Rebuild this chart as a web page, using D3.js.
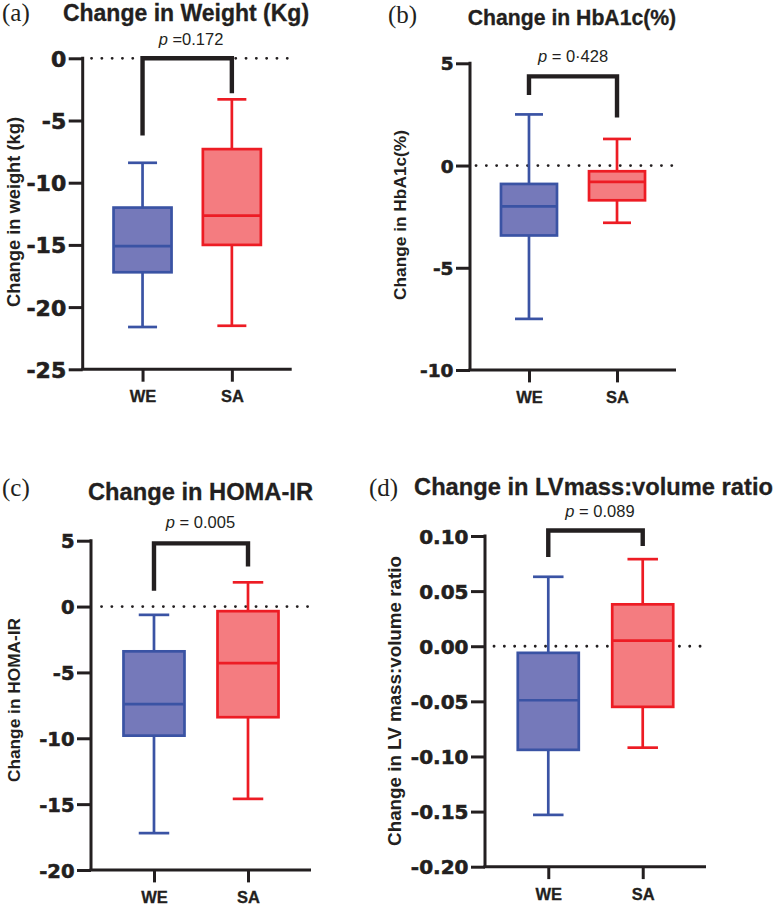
<!DOCTYPE html>
<html>
<head>
<meta charset="utf-8">
<script src="https://cdn.jsdelivr.net/npm/d3@7"></script>
<style>
  html, body { margin: 0; padding: 0; background: #fff; }
  svg { display: block; }
</style>
</head>
<body>
<svg id="chart" width="778" height="908"></svg>
<script>
// ---------- DATA ----------
const groups = ["WE", "SA"];
// five-number summaries: [min, q1, median, q3, max]
const weightWE = [-21.6, -17.2, -15.1, -12.0, -8.4];
const weightSA = [-21.5, -15.0, -12.65, -7.3, -3.3];
const hba1cWE = [-7.5, -3.42, -2.0, -0.9, 2.5];
const hba1cSA = [-2.8, -1.7, -0.8, -0.28, 1.3];
const homaWE = [-17.2, -9.8, -7.4, -3.4, -0.63];
const homaSA = [-14.6, -8.4, -4.3, -0.35, 1.84];
const lvWE = [-0.153, -0.094, -0.049, -0.006, 0.063];
const lvSA = [-0.092, -0.055, 0.005, 0.038, 0.079];
// bracket: [top, left end, right end]
const bracketWeight = [0, -6.2, -2.8];
const bracketHba1c = [4.36, 3.45, 2.35];
const bracketHoma = [4.8, 1.2, 3.05];
const bracketLv = [0.105, 0.081, 0.091];
const ticksWeight = [0, -5, -10, -15, -20, -25];
const ticksHba1c = [5, 0, -5, -10];
const ticksHoma = [5, 0, -5, -10, -15, -20];
const ticksLv = [0.10, 0.05, 0.00, -0.05, -0.10, -0.15, -0.20];
const titles = ["Change in Weight (Kg)", "Change in HbA1c(%)", "Change in HOMA-IR", "Change in LVmass:volume ratio"];
const yLabels = ["Change in weight (kg)", "Change in HbA1c(%)", "Change in HOMA-IR", "Change in LV mass:volume ratio"];
const pLabels = [["p", " =0.172"], ["p", " = 0·428"], ["p", " = 0.005"], ["p", " = 0.089"]];
const panelLetters = ["(a)", "(b)", "(c)", "(d)"];

// ---------- LAYOUT ----------
const panels = [
  { stats: [weightWE, weightSA], bracket: bracketWeight, ticks: ticksWeight, domain: [-25, 0], fmt: d3.format("d"),
    x0: 82.7, x1: 291.7, yTop: 58.3, yBot: 369.3, boxW: 58, dot: [91.5, 291],
    tickFs: 22, titleFs: 23, ylabFs: 18.3,
    letter: [2, 20.5], title: [186, 21], p: [191, 45], ylab: [19.5, 212] },
  { stats: [hba1cWE, hba1cSA], bracket: bracketHba1c, ticks: ticksHba1c, domain: [-10, 5], fmt: d3.format("d"),
    x0: 470, x1: 676, yTop: 63.3, yBot: 370, boxW: 56, dot: [476, 674],
    tickFs: 18.5, titleFs: 21.2, ylabFs: 17.3,
    letter: [388, 23], title: [572, 25], p: [573, 61.7], ylab: [406, 215] },
  { stats: [homaWE, homaSA], bracket: bracketHoma, ticks: ticksHoma, domain: [-20, 5], fmt: d3.format("d"),
    x0: 91, x1: 311, yTop: 540.7, yBot: 870, boxW: 61, dot: [101.5, 311],
    tickFs: 19.5, titleFs: 23.7, ylabFs: 17.3,
    letter: [2, 496], title: [200.5, 500], p: [200.5, 528.3], ylab: [20, 700] },
  { stats: [lvWE, lvSA], bracket: bracketLv, ticks: ticksLv, domain: [-0.2, 0.1], fmt: d3.format(".2f"),
    x0: 485, x1: 706, yTop: 536, yBot: 866.7, boxW: 61, dot: [494, 704],
    tickFs: 20, titleFs: 23.7, ylabFs: 18.8,
    letter: [369, 496], title: [593.5, 495], p: [600, 516.5], ylab: [401, 701] }
];

const blueStroke = "#3a53a4", blueFill = "#7579ba";
const redStroke = "#ed1c24", redFill = "#f47c80";
const ink = "#231f20";
const sans = "'Liberation Sans', Arial, Helvetica, sans-serif";
const wide = "'DejaVu Sans', 'Liberation Sans', sans-serif";
const serif = "'Liberation Serif', 'Times New Roman', serif";

const svg = d3.select("#chart");

panels.forEach((P, i) => {
  const g = svg.append("g");
  const y = d3.scaleLinear().domain(P.domain).range([P.yBot, P.yTop]);
  const x = d3.scalePoint().domain(groups).range([P.x0, P.x1]).padding(0.67);

  // zero dotted line
  g.append("line")
    .attr("x1", P.dot[0]).attr("x2", P.dot[1])
    .attr("y1", y(0)).attr("y2", y(0))
    .attr("stroke", ink).attr("stroke-width", 2.8)
    .attr("stroke-linecap", "round")
    .attr("stroke-dasharray", "0.1,10.2");

  // boxes
  P.stats.forEach((s, k) => {
    const cx = x(groups[k]);
    const stroke = k === 0 ? blueStroke : redStroke;
    const fill = k === 0 ? blueFill : redFill;
    const w = P.boxW, cap = w / 2;
    const bg = g.append("g");
    bg.append("line").attr("x1", cx).attr("x2", cx).attr("y1", y(s[4])).attr("y2", y(s[3]))
      .attr("stroke", stroke).attr("stroke-width", 2.7);
    bg.append("line").attr("x1", cx).attr("x2", cx).attr("y1", y(s[1])).attr("y2", y(s[0]))
      .attr("stroke", stroke).attr("stroke-width", 2.7);
    bg.append("line").attr("x1", cx - cap / 2).attr("x2", cx + cap / 2).attr("y1", y(s[4])).attr("y2", y(s[4]))
      .attr("stroke", stroke).attr("stroke-width", 2.7);
    bg.append("line").attr("x1", cx - cap / 2).attr("x2", cx + cap / 2).attr("y1", y(s[0])).attr("y2", y(s[0]))
      .attr("stroke", stroke).attr("stroke-width", 2.7);
    bg.append("rect").attr("x", cx - w / 2).attr("width", w)
      .attr("y", y(s[3])).attr("height", y(s[1]) - y(s[3]))
      .attr("fill", fill).attr("stroke", stroke).attr("stroke-width", 2.7);
    bg.append("line").attr("x1", cx - w / 2).attr("x2", cx + w / 2).attr("y1", y(s[2])).attr("y2", y(s[2]))
      .attr("stroke", stroke).attr("stroke-width", 2.7);
  });

  // bracket
  const xl = x(groups[0]), xr = x(groups[1]);
  g.append("path")
    .attr("d", `M${xl},${y(P.bracket[1])}V${y(P.bracket[0])}H${xr}V${y(P.bracket[2])}`)
    .attr("fill", "none").attr("stroke", ink).attr("stroke-width", 4.4)
    .attr("stroke-linejoin", "miter");

  // y axis
  const yAxis = d3.axisLeft(y).tickValues(P.ticks)
    .tickFormat(d => P.fmt(d).replace("\u2212", "-")).tickSize(14).tickPadding(2.5);
  const ya = g.append("g").attr("transform", `translate(${P.x0},0)`).call(yAxis);
  ya.select(".domain").attr("stroke", ink).attr("stroke-width", 3)
    .attr("d", `M0,${P.yTop - 1.5}V${P.yBot}`);
  ya.selectAll(".tick line").attr("stroke", ink).attr("stroke-width", 3);
  ya.selectAll(".tick text").attr("fill", ink).attr("dy", "0.36em")
    .attr("stroke", ink).attr("stroke-width", 0.6)
    .style("font-family", wide).style("font-size", P.tickFs + "px").style("font-weight", "bold");

  // x axis
  const xAxis = d3.axisBottom(x).tickSize(12.4).tickPadding(9);
  const xa = g.append("g").attr("transform", `translate(0,${P.yBot})`).call(xAxis);
  xa.select(".domain").attr("stroke", ink).attr("stroke-width", 3)
    .attr("d", `M${P.x0 - 1.5},0H${P.x1}`);
  xa.selectAll(".tick line").attr("stroke", ink).attr("stroke-width", 3);
  xa.selectAll(".tick text").attr("fill", ink)
    .attr("stroke", ink).attr("stroke-width", 0.3)
    .style("font-family", sans).style("font-size", "16.5px").style("font-weight", "bold");

  // title
  g.append("text").attr("x", P.title[0]).attr("y", P.title[1]).attr("text-anchor", "middle")
    .attr("fill", ink).attr("stroke", ink).attr("stroke-width", 0.3)
    .style("font-family", sans).style("font-size", P.titleFs + "px").style("font-weight", "bold")
    .text(titles[i]);
  // panel letter
  g.append("text").attr("x", P.letter[0]).attr("y", P.letter[1])
    .attr("fill", ink).style("font-family", serif).style("font-size", "25px")
    .text(panelLetters[i]);
  // p value
  const pt = g.append("text").attr("x", P.p[0]).attr("y", P.p[1]).attr("text-anchor", "middle")
    .attr("fill", ink).style("font-family", sans).style("font-size", "16.5px");
  pt.append("tspan").style("font-style", "italic").text(pLabels[i][0]);
  pt.append("tspan").text(pLabels[i][1]);
  // y label
  g.append("text").attr("transform", `translate(${P.ylab[0]},${P.ylab[1]}) rotate(-90)`)
    .attr("text-anchor", "middle").attr("fill", ink)
    .style("font-family", sans).style("font-size", P.ylabFs + "px").style("font-weight", "bold")
    .text(yLabels[i]);
});
</script>
</body>
</html>
